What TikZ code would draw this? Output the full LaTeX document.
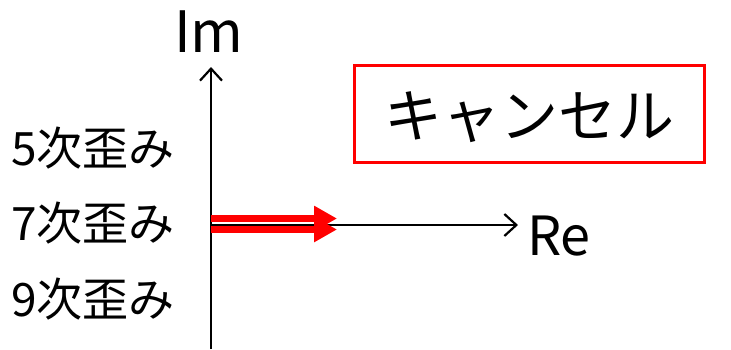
\documentclass[tikz,border=0pt]{standalone}
\usepackage{fontspec}
\setmainfont{Noto Sans CJK JP}
\usetikzlibrary{arrows.meta}
\begin{document}
\begin{tikzpicture}[x=1pt,y=-1pt,
  axis/.style={line width=2.2pt,-{Straight Barb[length=12pt,width=22pt,line width=2.2pt]}},
  redarrow/.style={red,-{Triangle[length=23pt,width=24pt]}},
  lbl/.style={inner sep=0pt,font=\fontsize{46pt}{50pt}\selectfont},
  axlbl/.style={inner sep=0pt,font=\fontsize{57pt}{60pt}\selectfont}]
\useasboundingbox (0,0) rectangle (731,349);
\coordinate (o) at (211,225);
\coordinate (ybot) at (211,349);
\coordinate (ytop) at (211,67);
\coordinate (xend) at (518,225);
\draw[axis] (ybot) -- (ytop);
\draw[axis] (o) -- (xend);
\coordinate (a1s) at (211,218.5);
\coordinate (a1e) at (337,219);
\coordinate (a2s) at (211,229.5);
\coordinate (a2e) at (337,229.5);
\draw[redarrow,line width=7pt] (a1s) -- (337,218.5);
\draw[redarrow,line width=7.5pt] (a2s) -- (a2e);
\draw[line width=2.2pt] (o) -- (314,225);
\node[axlbl,anchor=base] (im) at (209,52) {Im};
\node[axlbl,anchor=base west,font=\fontsize{54pt}{58pt}\selectfont] (re) at (527,255) {Re};
\node[lbl,anchor=base west] (l5) at (11,165) {5次歪み};
\node[lbl,anchor=base west] (l7) at (11,240) {7次歪み};
\node[lbl,anchor=base west] (l9) at (11,316) {9次歪み};
\node[draw=red,line width=3pt,minimum width=350pt,minimum height=97pt,inner sep=0pt] (box) at (529,113.5) {};
\node[inner sep=0pt,anchor=base,font=\fontsize{58pt}{60pt}\selectfont] (cancel) at (529,137) {キャンセル};
\end{tikzpicture}
\end{document}
